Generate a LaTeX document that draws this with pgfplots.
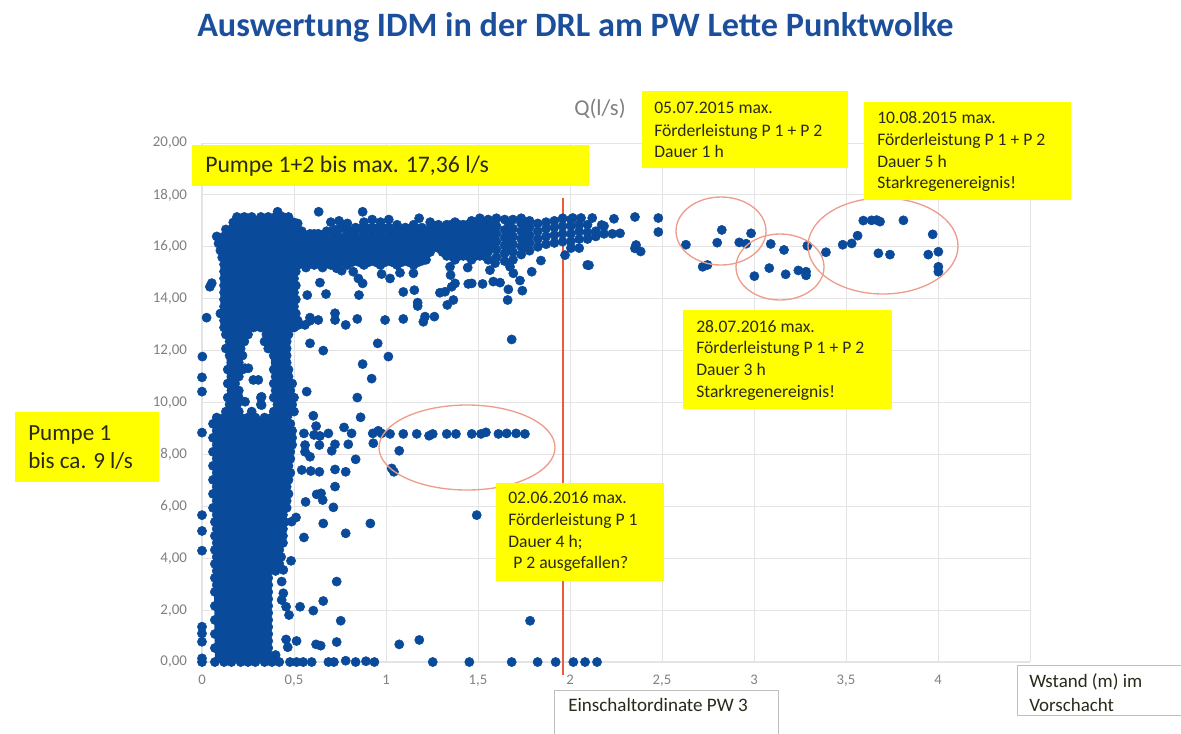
\documentclass[border=0pt]{standalone}
\usepackage{fontspec}
\setmainfont{Carlito}
\usepackage{pgfplots}
\usepackage{pgfplotstable}
\pgfplotsset{compat=1.18}
\definecolor{dotblue}{HTML}{0A4A9A}
\definecolor{titleblue}{HTML}{1B4F9C}
\definecolor{boxyellow}{HTML}{FFFF00}
\definecolor{ringred}{HTML}{EE9C8C}
\definecolor{linered}{HTML}{EF5A3C}
\definecolor{gridgray}{HTML}{E4E4E4}
\definecolor{labgray}{HTML}{808080}
\definecolor{txt}{HTML}{2A2A1A}
\pgfplotsset{dot/.style={only marks,color=dotblue,mark=*,mark size=3.45pt,mark options={draw=dotblue,fill=dotblue,line width=.4pt}}}
% dense cloud, near the axes: one row per y, x values in the columns
\pgfplotstableread{
y c1 c2 c3 c4 c5 c6 c7 c8 c9 c10 c11
0 .07 .12 .16 .21 .25 .29 .34 .38 .42 nan nan
.27 .1 .14 .18 .23 .27 .32 .36 .4 nan nan nan
.54 .07 .12 .16 .21 .25 .29 .34 .36 nan nan nan
.81 .1 .14 .18 .23 .27 .32 .36 nan nan nan nan
1.08 .07 .12 .16 .21 .25 .29 .34 .36 nan nan nan
1.35 .1 .14 .18 .23 .27 .32 .36 nan nan nan nan
1.62 .07 .12 .16 .21 .25 .29 .34 .36 nan nan nan
1.89 .1 .14 .18 .23 .27 .32 .36 nan nan nan nan
2.16 .07 .12 .16 .21 .25 .29 .34 .36 nan nan nan
2.43 .1 .14 .18 .23 .27 .32 .36 nan nan nan nan
2.7 .07 .12 .16 .21 .25 .29 .34 .36 nan nan nan
2.97 .08 .14 .18 .23 .27 .32 .36 nan nan nan nan
3.24 .07 .12 .16 .21 .25 .29 .34 .36 nan nan nan
3.51 .08 .14 .18 .23 .27 .32 .36 .4 nan nan nan
3.78 .07 .12 .16 .21 .25 .29 .34 .38 .42 nan nan
4.05 .08 .14 .18 .23 .27 .32 .36 .4 .43 nan nan
4.32 .07 .12 .16 .21 .25 .29 .34 .38 .42 nan nan
4.59 .08 .14 .18 .23 .27 .32 .36 .4 .44 nan nan
4.86 .07 .12 .16 .21 .25 .29 .34 .38 .42 .44 nan
5.13 .08 .14 .18 .23 .27 .32 .36 .4 .44 nan nan
5.4 .07 .12 .16 .21 .25 .29 .34 .38 .42 .45 nan
5.67 .08 .14 .18 .23 .27 .32 .36 .4 .44 nan nan
5.94 .06 .1 .14 .18 .23 .27 .32 .36 .4 .44 .46
6.21 .08 .12 .16 .21 .25 .29 .34 .38 .42 .46 nan
6.48 .06 .1 .14 .18 .23 .27 .32 .36 .4 .44 .47
6.75 .08 .12 .16 .21 .25 .29 .34 .38 .42 .46 nan
7.02 .06 .1 .14 .18 .23 .27 .32 .36 .4 .44 .47
7.29 .08 .12 .16 .21 .25 .29 .34 .38 .42 .46 .48
7.56 .06 .1 .14 .18 .23 .27 .32 .36 .4 .44 .47
7.83 .08 .12 .16 .21 .25 .29 .34 .38 .42 .46 .48
8.1 .06 .1 .14 .18 .23 .27 .32 .36 .4 .44 .48
8.37 .08 .12 .16 .21 .25 .29 .34 .38 .42 .46 .49
8.64 .06 .1 .14 .18 .23 .27 .32 .36 .4 .44 .49
8.91 .08 .12 .16 .21 .25 .29 .34 .38 .42 .46 .49
9.18 .06 .1 .14 .18 .23 .27 .32 .36 .4 .44 .48
9.42 .08 .12 .16 .21 .25 .29 .34 .38 .42 .46 nan
9.65 .13 .17 .2 .27 .39 .43 .47 .5 nan nan nan
9.92 .15 .19 .32 .41 .45 .49 nan nan nan nan nan
10.19 .14 .18 .2 .32 .39 .43 .47 .5 nan nan nan
10.46 .16 .2 .4 .44 .48 nan nan nan nan nan nan
10.73 .14 .18 .39 .43 .47 .49 nan nan nan nan nan
11 .16 .2 .4 .44 .47 nan nan nan nan nan nan
11.27 .14 .18 .22 .39 .43 .47 nan nan nan nan nan
11.54 .16 .2 .4 .44 .46 nan nan nan nan nan nan
11.81 .15 .19 .22 .39 .43 .46 nan nan nan nan nan
12.08 .13 .17 .21 .36 .4 .44 .46 nan nan nan nan
12.35 .15 .19 .23 .34 .38 .42 .46 nan nan nan nan
12.62 .13 .17 .21 .25 .35 .39 .43 .47 nan nan nan
12.89 .12 .16 .2 .24 .28 .32 .36 .4 .44 .48 .5
13.16 .12 .16 .21 .25 .29 .34 .38 .42 .46 .5 .52
13.43 .1 .14 .18 .23 .27 .32 .36 .4 .44 .48 .51
13.7 .12 .16 .21 .25 .29 .34 .38 .42 .46 .5 nan
13.97 .12 .14 .18 .23 .27 .32 .36 .4 .44 .48 .51
14.24 .12 .16 .21 .25 .29 .34 .38 .42 .46 .5 nan
14.51 .12 .14 .18 .23 .27 .32 .36 .4 .44 .48 .51
14.78 .12 .16 .21 .25 .29 .34 .38 .42 .46 .5 nan
15.05 .12 .14 .18 .23 .27 .32 .36 .4 .44 .48 .51
15.32 .12 .16 .21 .25 .29 .34 .38 .42 .46 .5 nan
15.59 .11 .14 .18 .23 .27 .32 .36 .4 .44 .48 .51
15.86 .1 .16 .21 .25 .29 .34 .38 .42 .46 .5 nan
16.13 .09 .14 .18 .23 .27 .32 .36 .4 .44 .48 .51
16.4 .08 .12 .16 .21 .25 .29 .34 .38 .42 .46 .5
16.67 .13 .18 .23 .27 .32 .36 .4 .44 .48 .51 nan
16.94 .17 .21 .25 .29 .34 .38 .42 .46 .5 nan nan
17.15 .19 .23 .27 .32 .36 .4 .44 .47 nan nan nan
}\blocktable
% dense band along the top: one row per x, y values in the columns
\pgfplotstableread{
x c1 c2 c3 c4 c5 c6
.52 15.3 15.62 15.94 16.26 16.58 16.9
.565 15.2 15.5 15.8 16.1 16.4 nan
.61 15.3 15.62 15.94 16.26 16.5 nan
.655 15.2 15.5 15.8 16.1 16.45 nan
.7 15.3 15.62 15.94 16.26 16.58 16.95
.745 15.4 15.72 16.04 16.36 16.68 17
.79 15.3 15.62 15.94 16.26 16.58 16.9
.835 15.46 15.78 16.1 16.42 16.74 nan
.88 15.3 15.62 15.94 16.26 16.58 16.95
.925 15.46 15.78 16.1 16.42 16.74 17.05
.97 15.3 15.62 15.94 16.26 16.58 16.95
1.015 15.46 15.78 16.1 16.42 16.74 17.05
1.06 15.3 15.62 15.94 16.26 16.58 16.85
1.105 15.46 15.78 16.1 16.42 16.74 nan
1.15 15.3 15.62 15.94 16.26 16.58 16.85
1.195 15.46 15.78 16.1 16.42 16.74 nan
1.24 15.8 16.1 16.4 16.7 16.95 nan
1.285 15.95 16.25 16.55 16.85 nan nan
1.33 15.65 15.95 16.25 16.55 16.85 nan
1.375 15.5 15.8 16.1 16.4 16.7 16.95
1.42 15.65 15.95 16.25 16.55 16.85 nan
1.465 15.5 15.8 16.1 16.4 16.7 17
1.51 15.65 15.95 16.25 16.55 16.85 17.1
1.555 15.5 15.8 16.1 16.4 16.7 17.05
1.6 15.6 15.9 16.2 16.5 16.8 17.1
1.645 15.45 15.75 16.05 16.35 16.65 17.05
1.69 15.5 15.8 16.1 16.4 16.7 17.05
1.735 15.7 16 16.3 16.6 16.9 17.1
1.78 15.85 16.15 16.45 16.75 17 nan
1.825 16 16.3 16.6 16.9 nan nan
1.87 16.1 16.4 16.7 16.95 nan nan
1.915 16.15 16.45 16.75 17 nan nan
1.96 16.2 16.5 16.8 17.1 nan nan
2.005 15.95 16.2 16.5 16.8 17.05 nan
2.05 15.95 16.3 16.6 16.85 nan nan
2.095 16.3 16.55 16.85 nan nan nan
2.14 16.4 16.6 nan nan nan nan
2.185 16.5 16.8 nan nan nan nan
2.23 16.5 nan nan nan nan nan
}\bandtable
\pgfplotstableread{
x c1 c2 c3 c4 c5
.5425 15.4 15.7 16 16.3 16.6
.5875 15.35 15.65 15.95 16.25 16.5
.6325 15.35 15.65 15.95 16.25 16.5
.6775 15.35 15.65 15.95 16.25 16.6
.7225 15.45 15.75 16.05 16.35 16.65
.7675 15.45 15.75 16.05 16.35 16.75
.8125 15.4 15.7 16 16.3 16.6
.8575 15.4 15.7 16 16.3 16.7
.9025 15.4 15.7 16 16.3 16.7
.9475 15.4 15.7 16 16.3 16.7
.9925 15.4 15.7 16 16.3 16.7
1.0375 15.4 15.7 16 16.3 16.6
1.0825 15.4 15.7 16 16.3 16.6
1.1275 15.4 15.7 16 16.3 16.6
1.1725 15.4 15.7 16 16.3 16.6
1.2175 15.5 15.7 16 16.3 16.6
1.2625 16 16.3 16.6 16.8 nan
1.3075 15.8 16.1 16.4 16.7 nan
1.3525 15.65 15.95 16.25 16.55 16.85
1.3975 15.65 15.95 16.25 16.55 16.85
1.4425 15.65 15.95 16.25 16.55 16.85
1.4875 15.65 15.95 16.25 16.55 16.85
1.5325 15.65 15.95 16.25 16.55 16.85
1.5775 16 16.3 16.6 16.9 nan
1.6675 16 16.3 16.6 16.9 nan
1.7575 16 16.3 16.6 16.9 nan
}\bandtabletwo
\newcommand{\tx}[5][txt]{\node[anchor=base west,inner sep=0pt,text=#1,font=\fontsize{#4}{#4}\selectfont] at (#2,#3) {#5};}
\begin{document}
\begin{tikzpicture}[x=.75pt,y=-.75pt]
\path[use as bounding box] (0,0) rectangle (1181,733);
\begin{axis}[
  at={(151.5pt,-496.5pt)},anchor=south west,scale only axis,width=621pt,height=389.25pt,
  xmin=0,xmax=4.5,ymin=0,ymax=20,clip=false,
  xtick={0,.5,1,1.5,2,2.5,3,3.5,4,4.5},
  xticklabels={0,{0,5},1,{1,5},2,{2,5},3,{3,5},4,{}},
  ytick={0,2,...,20},
  grid=major,major grid style={draw=gridgray,line width=.7pt},
  axis line style={draw=gridgray,line width=.9pt},
  axis x line=bottom,axis y line=left,
  axis line style={-},
  tick style={draw=none},
  /pgf/number format/assume math mode=true,
  y tick label style={/pgf/number format/fixed,/pgf/number format/fixed zerofill,/pgf/number format/precision=2,/pgf/number format/use comma,text=labgray,font=\fontsize{11.2}{11.2}\selectfont,inner sep=0pt,anchor=east,xshift=-9pt},
  x tick label style={text=labgray,font=\fontsize{11}{11}\selectfont,inner sep=0pt,anchor=north,yshift=-7.5pt},
]
% regions where the points overlap completely
\addplot[fill=dotblue,draw=none] coordinates {(.07,0)(.4,0)(.36,.3)(.36,3.4)(.43,3.6)(.43,5.6)(.47,5.9)(.48,7)(.49,8.5)(.47,9.4)(.08,9.4)(.06,6)} --cycle;
\addplot[fill=dotblue,draw=none] coordinates {(.14,9.4)(.19,9.4)(.21,12.9)(.13,12.9)} --cycle;
\addplot[fill=dotblue,draw=none] coordinates {(.4,9.4)(.49,9.4)(.46,12.9)(.36,12.9)} --cycle;
\addplot[fill=dotblue,draw=none] coordinates {(.12,12.9)(.5,12.9)(.52,15.2)(.51,16.4)(.47,17.15)(.19,17.15)(.09,16.4)(.1,15.8)(.12,14)} --cycle;
\pgfplotsinvokeforeach{1,...,11}{\addplot[dot] table[x index=#1,y index=0]{\blocktable};}
\pgfplotsinvokeforeach{1,...,6}{\addplot[dot] table[x index=0,y index=#1]{\bandtable};}
\pgfplotsinvokeforeach{1,...,5}{\addplot[dot] table[x index=0,y index=#1]{\bandtabletwo};}
\addplot[dot] coordinates {
(.043,14.46)(.053,14.6)(.025,13.27)(.002,11.77)(0,10.97)(0,10.42)
(.411,17.35)(.634,17.35)(.873,17.35)(1.18,17.1)
(.641,14.62)(.572,14.14)(.674,14.18)(.853,14.14)(1.094,14.26)(1.154,14.33)(1.172,13.85)(1.172,13.72)
(.587,13.27)(.632,13.18)(.587,13.15)(.723,13.44)(.723,13.18)(.781,12.99)(.844,13.22)(.995,13.18)(1.094,13.22)(1.263,13.31)(1.212,13.31)(1.203,13.11)(.524,12.99)(.56,12.99)
(.587,12.28)(.659,12)(.955,12.28)(1.013,11.77)(.873,11.48)(.922,10.92)(.569,10.42)(.844,10.19)(1.683,12.43)
(.252,11.32)(.234,11.32)(.279,10.87)(.306,10.87)(.234,10.03)(.324,10.22)(.324,9.9)
(.732,15.17)(.759,15.08)(.822,15.04)(.85,14.78)(.873,14.59)(.976,14.95)(1.022,14.78)(1.076,15)(1.149,14.98)(1.348,15.23)(1.351,14.91)(1.375,14.59)(1.357,14.46)(1.321,14.27)(1.293,14.23)(1.366,13.95)(1.333,13.76)
(1.444,15.2)(1.447,14.57)(1.466,14.59)(1.525,14.57)(1.583,14.66)(1.62,14.62)(1.665,14.36)(1.661,13.95)(1.741,14.31)(1.728,14.7)(1.692,14.98)(1.792,15.04)(1.842,15.47)(1.973,15.68)(2.094,15.3)(1.565,15.1)(1.593,15.37)(1.674,15.23)
(.605,9.49)(.62,9.09)(.862,9.43)(.772,9.04)(0,8.84)
(.554,8.81)(.609,8.75)(.641,8.71)(.687,8.81)(.813,8.81)(.928,8.81)(.958,8.91)(.976,8.81)(1.022,8.79)(1.094,8.79)(1.167,8.79)(1.234,8.72)(1.254,8.79)(1.33,8.79)(1.38,8.79)(1.466,8.79)(1.516,8.79)(1.543,8.85)(1.611,8.79)(1.656,8.81)(1.707,8.81)(1.755,8.79)
(.931,8.43)(1.072,8.14)(.795,8.39)(.723,8.39)(.705,8.14)(.638,8.36)(.56,8.36)(.56,8.1)(.587,7.91)(.835,7.81)(1.031,7.46)(1.043,7.33)(.542,7.4)(.591,7.36)(.638,7.33)(.723,7.42)(.781,7.33)(.723,6.76)(.623,6.46)(.647,6.5)(.656,6.24)(.563,6.17)(.714,5.96)
(0,5.66)(0,5.05)(0,4.29)(1.493,5.66)(.487,5.41)(.511,5.57)(.659,5.34)(.915,5.34)(.781,4.96)(.554,4.8)(.484,3.9)(.442,3.55)(.433,3.1)(.442,2.65)(.433,2.39)(.457,2.13)(.473,1.81)(.732,3.1)(.659,2.35)(.533,2.13)(.605,1.98)(.754,1.59)(1.783,1.59)
(0,1.36)(0,1.1)(0,.78)(.457,.87)(.466,.57)(.514,.81)(.62,.68)(.645,.63)(.732,.77)(1.072,.68)(1.181,.85)
(0,.14)(0,0)(.478,0)(.514,0)(.55,0)(.596,0)(.687,0)(.717,0)(.781,.05)(.835,0)(.891,.03)(.937,0)(1.254,0)(1.453,0)(1.683,0)(1.824,0)(1.922,0)(2.018,0)(2.082,0)(2.147,0)
(2.353,17.15)(2.48,17.11)(2.48,16.57)(2.239,17.08)(2.121,17.11)(2.06,17.11)(2.015,17.11)
(2.272,16.52)(2.359,16.07)(2.353,15.94)(2.384,15.82)(2.103,15.29)(2.172,16.84)
(2.63,16.08)(2.8,16.16)(2.825,16.65)(2.92,16.17)(2.957,16.12)(2.984,16.52)(2.721,15.23)(2.747,15.3)
(3.091,16.11)(3.163,15.88)(3.083,15.18)(3.002,14.87)(3.172,14.94)(3.241,15.09)(3.283,15.04)(3.283,14.9)(3.29,16.04)
(3.391,15.79)(3.482,16.08)(3.531,16.13)(3.563,16.43)(3.594,17.01)(3.639,17.02)(3.667,17.03)(3.685,16.97)(3.812,17.02)(3.676,15.75)(3.739,15.7)(3.971,16.48)(3.947,15.7)(4.002,15.81)(4.002,15.23)(4.002,15.04)
};
\addplot[color=linered,line width=1.6pt] coordinates {(1.962,17.9)(1.962,-.5)};
\end{axis}
% ellipses
\draw[ringred,line width=1pt] (721,231) ellipse [x radius=45,y radius=34];
\draw[ringred,line width=1pt] (780,267) ellipse [x radius=44,y radius=33];
\draw[ringred,line width=1pt] (883,246) ellipse [x radius=75,y radius=48];
\draw[ringred,line width=1pt] (467,447.5) ellipse [x radius=88,y radius=42.5];
% yellow boxes
\fill[boxyellow] (192,145) rectangle (589,186);
\fill[boxyellow] (15,412) rectangle (159,482);
\fill[boxyellow] (642,91) rectangle (848,168);
\fill[boxyellow] (864,102) rectangle (1071,200);
\fill[boxyellow] (683,310) rectangle (892,409);
\fill[boxyellow] (496,483) rectangle (664,581);
% white boxes
\draw[draw=gray!50,fill=white,line width=.7pt] (554,690) rectangle (778,740);
\draw[draw=gray!50,fill=white,line width=.7pt] (1017,665) rectangle (1181,715);
% text
\tx[titleblue]{197}{36}{25.65}{\bfseries Auswertung IDM in der DRL am PW Lette Punktwolke}
\tx[labgray]{574}{115}{17}{Q(l/s)}
\tx{205}{172}{17.8}{Pumpe 1+2 bis max. 17,36 l/s}
\tx{28}{440}{17.3}{Pumpe 1}
\tx{28}{468}{17.3}{bis ca. 9 l/s}
\tx{654}{113}{13.2}{05.07.2015 max.}
\tx{654}{136}{13.2}{Förderleistung P 1 + P 2}
\tx{654}{157}{13.2}{Dauer 1 h}
\tx{877}{123}{13.2}{10.08.2015 max.}
\tx{877}{145}{13.2}{Förderleistung P 1 + P 2}
\tx{877}{167}{13.2}{Dauer 5 h}
\tx{877}{188}{13.2}{Starkregenereignis!}
\tx{696}{332}{13.2}{28.07.2016 max.}
\tx{696}{353}{13.2}{Förderleistung P 1 + P 2}
\tx{696}{375}{13.2}{Dauer 3 h}
\tx{696}{397}{13.2}{Starkregenereignis!}
\tx{508}{503}{13.2}{02.06.2016 max.}
\tx{508}{525}{13.2}{Förderleistung P 1}
\tx{508}{547}{13.2}{Dauer 4 h;}
\tx{513}{568}{13.2}{P 2 ausgefallen?}
\tx{568}{711}{14.3}{Einschaltordinate PW 3}
\tx{1029}{687}{14.2}{Wstand (m) im}
\tx{1029}{711}{14.2}{Vorschacht}
\end{tikzpicture}
\end{document}
